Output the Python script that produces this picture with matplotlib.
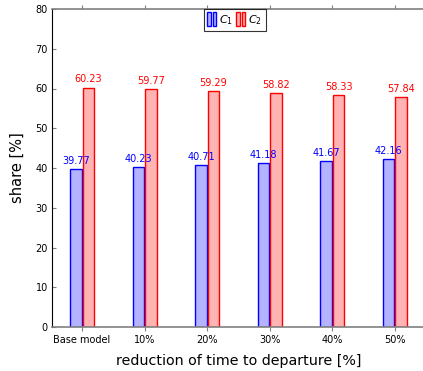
import matplotlib
matplotlib.use("Agg")
import matplotlib.pyplot as plt
from matplotlib.legend_handler import HandlerBase
from matplotlib.patches import Rectangle
import numpy as np

categories = ["Base model", "10%", "20%", "30%", "40%", "50%"]
c1 = [39.77, 40.23, 40.71, 41.18, 41.67, 42.16]
c2 = [60.23, 59.77, 59.29, 58.82, 58.33, 57.84]

W, H = 423, 371
fig = plt.figure(figsize=(W / 100, H / 100), dpi=100)
ax = fig.add_axes([52 / W, 44 / H, 373 / W, 318 / H])

x = np.arange(len(categories))
bw = 0.185
blue_face, blue_edge = "#b3b3ff", "#0000ff"
red_face, red_edge = "#ffb3b3", "#ff0000"
b1 = ax.bar(x - 0.1, c1, bw, color=blue_face, edgecolor=blue_edge, linewidth=1, label="$C_1$")
b2 = ax.bar(x + 0.1, c2, bw, color=red_face, edgecolor=red_edge, linewidth=1, label="$C_2$")

for xi, v in zip(x, c1):
    ax.text(xi - 0.1, v + 0.8, f"{v:.2f}", ha="center", va="bottom", color=blue_edge, fontsize=7)
for xi, v in zip(x, c2):
    ax.text(xi + 0.1, v + 0.8, f"{v:.2f}", ha="center", va="bottom", color=red_edge, fontsize=7)

ax.set_xlim(-0.48, 5.48)
ax.set_ylim(0, 80)
ax.set_xticks(x)
ax.set_xticklabels(categories, fontsize=7)
ax.set_yticks(np.arange(0, 81, 10))
ax.tick_params(axis="y", direction="in", length=3, color="0.5", labelsize=7, pad=3)
ax.tick_params(axis="x", direction="out", length=3, color="0.5", top=True, labelsize=7, pad=3)

ax.spines["left"].set_color("black")
for s in ["bottom", "top"]:
    ax.spines[s].set_color("0.5")
    ax.spines[s].set_linewidth(1.2)
ax.spines["right"].set_visible(False)

ax.set_ylabel("share [%]", fontsize=10.5, labelpad=8)
ax.set_xlabel("reduction of time to departure [%]", fontsize=10.3, labelpad=6)


class TwoBars(HandlerBase):
    def create_artists(self, legend, orig_handle, xdescent, ydescent, width, height, fontsize, trans):
        fc = orig_handle.get_facecolor()
        ec = orig_handle.get_edgecolor()
        h = height * 1.3
        y0 = -ydescent - (h - height) / 2
        w = width * 0.38
        r1 = Rectangle((-xdescent, y0), w, h, facecolor=fc, edgecolor=ec, lw=1, transform=trans)
        r2 = Rectangle((-xdescent + width * 0.6, y0), w, h, facecolor=fc, edgecolor=ec, lw=1, transform=trans)
        return [r1, r2]


leg = ax.legend(handles=[b1.patches[0], b2.patches[0]], labels=["$C_1$", "$C_2$"],
                handler_map={Rectangle: TwoBars()},
                loc="upper center", bbox_to_anchor=(0.49, 1.0), ncol=2, fontsize=8,
                frameon=True, fancybox=False, edgecolor="black", handlelength=0.8,
                handleheight=1.1, handletextpad=0.25, columnspacing=0.3, borderpad=0.35,
                borderaxespad=0)
leg.get_frame().set_linewidth(0.8)

fig.savefig("out.png", dpi=100)
